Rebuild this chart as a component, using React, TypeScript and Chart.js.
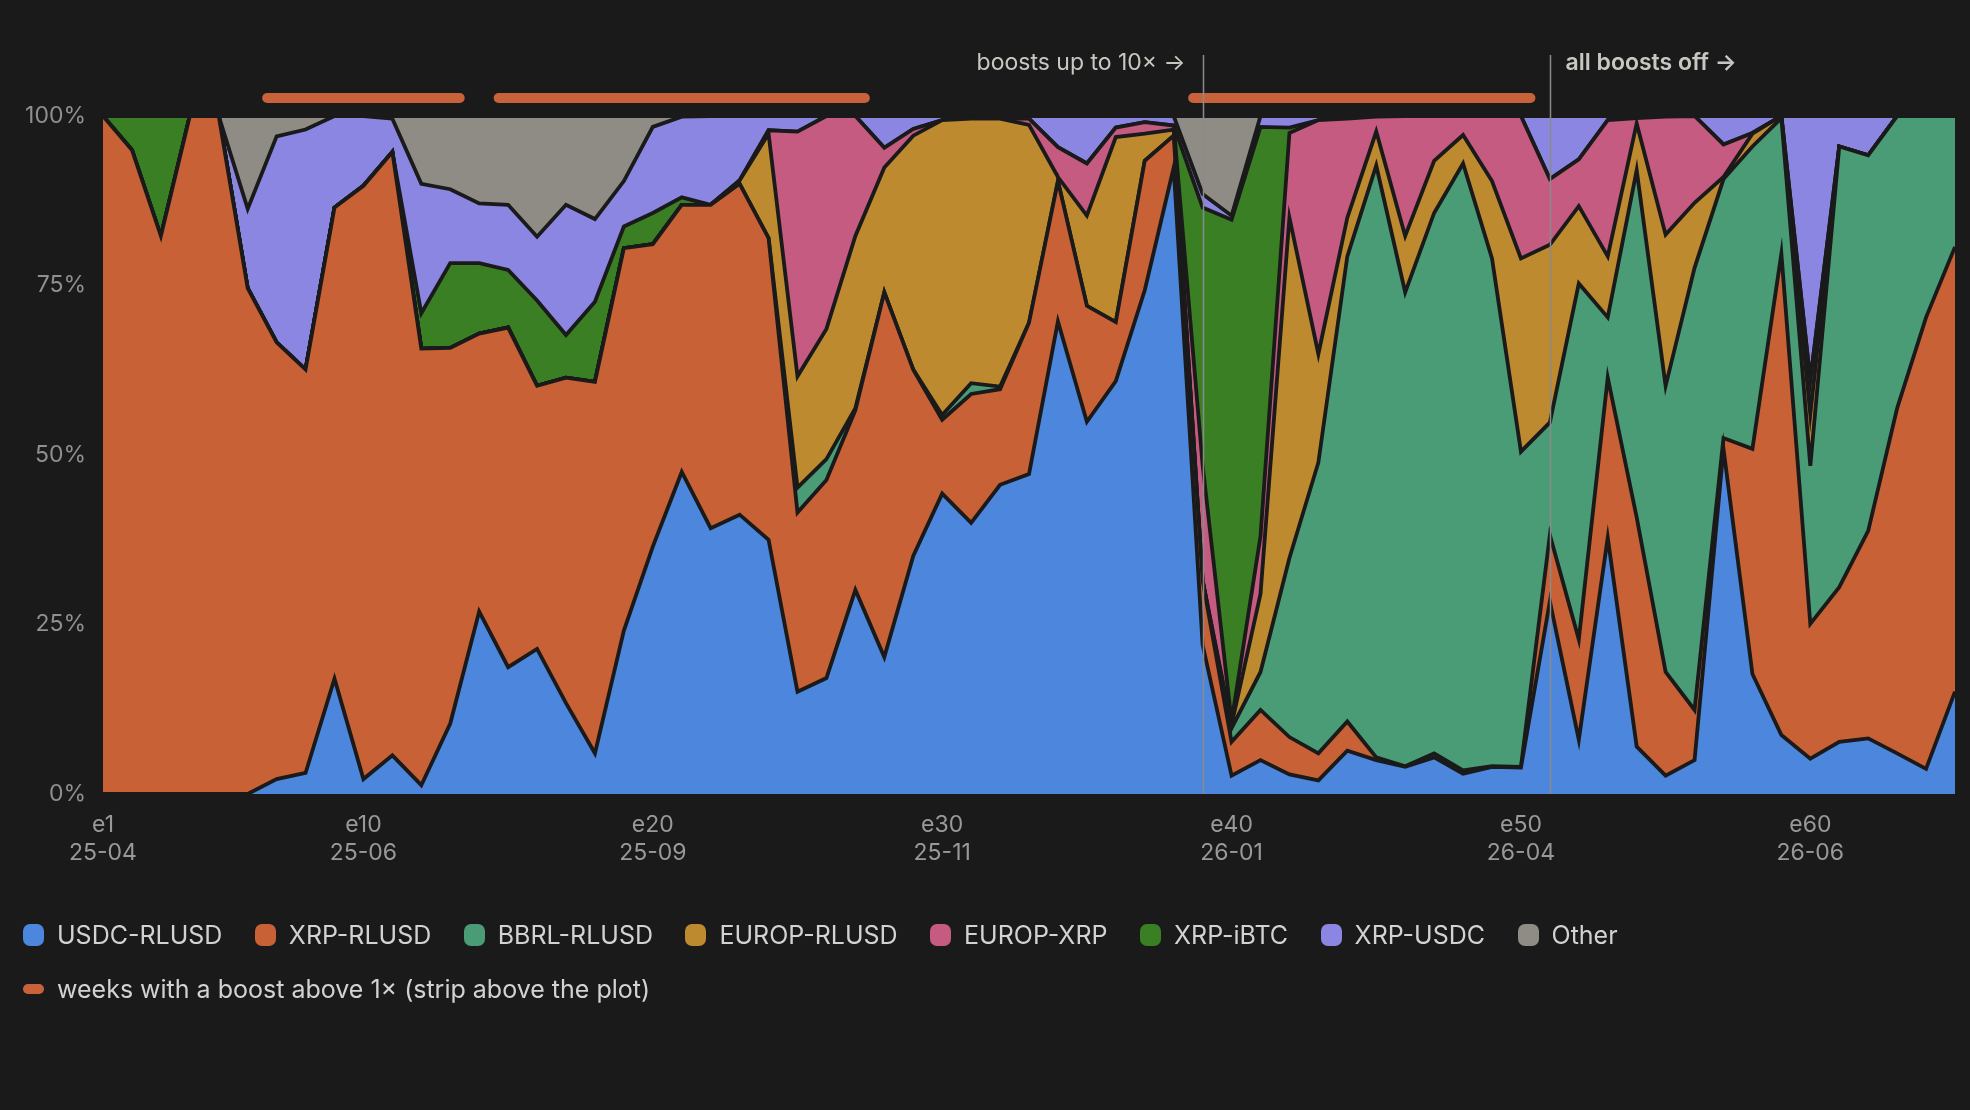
import React, { useEffect, useRef } from 'react';
import { Chart, registerables } from 'chart.js';
Chart.register(...registerables);

// weekly share of volume per pool, e1 .. e65
const weeks = Array.from({ length: 65 }, (_, i) => `e${i + 1}`);
const tickWeeks = ['e1', 'e10', 'e20', 'e30', 'e40', 'e50', 'e60'];
const tickMonths = ['25-04', '25-06', '25-09', '25-11', '26-01', '26-04', '26-06'];

const usdcRlusd = [
  0, 0, 0, 0, 0, 0, 2.2, 3.1, 17, 2.2, 5.7, 1.3, 10.4, 26.9, 18.7, 21.4, 13.4, 6, 24.1, 36.5,
  47.5, 39.2, 41.2, 37.5, 15.1, 17.1, 30.1, 20.2, 35.1, 44.3, 40, 45.6, 47.2, 69.7, 54.9, 60.9, 74.3, 92.4, 22, 2.7,
  5, 2.9, 2, 6.4, 5, 4, 5.4, 3, 4, 3.9, 28.4, 8, 37.8, 7, 2.7, 5, 50.9, 17.7, 8.7, 5.2,
  7.7, 8.2, 6, 3.7, 15.1,
];
const xrpRlusd = [
  100, 95, 82.3, 100, 100, 74.6, 64.4, 59.5, 69.5, 87.5, 89, 64.4, 55.4, 41, 50.1, 38.8, 48, 54.8, 56.4, 44.6,
  39.4, 47.7, 48.8, 44.5, 26.4, 29.2, 26.5, 53.8, 27.5, 10.9, 19, 14.1, 22.3, 20.7, 17.1, 8.7, 19.1, 4.7, 9.5, 5,
  7.4, 5.5, 4, 4.3, 0.4, 0.1, 0.6, 0.5, 0.1, 0.1, 9.8, 14.8, 23.6, 33.8, 15.3, 7.4, 1.6, 33.2, 71, 19.9,
  22.8, 30.6, 50.9, 66.6, 65.6,
];
const bbrlRlusd = [
  0, 0, 0, 0, 0, 0, 0, 0, 0, 0, 0, 0, 0, 0, 0, 0, 0, 0, 0, 0,
  0, 0, 0, 0, 3.7, 3.1, 0.3, 0, 0, 0.7, 1.6, 0.4, 0, 0, 0, 0, 0, 0, 0, 2,
  5.6, 26.4, 42.9, 68.6, 87.3, 69.9, 79.7, 89.5, 74.9, 46.5, 16.6, 52.5, 8.9, 51.2, 42.2, 65.2, 38.2, 44.6, 20, 23.3,
  65, 55.4, 43.1, 29.7, 19.3,
];
const europRlusd = [
  0, 0, 0, 0, 0, 0, 0, 0, 0, 0, 0, 0, 0, 0, 0, 0, 0, 0, 0, 0,
  0, 0, 0.5, 15.4, 16.4, 19.2, 25.4, 18.4, 34.5, 43.5, 39, 39.5, 29.2, 0.6, 13.3, 27.3, 4, 0.9, 0, 0.5,
  11.5, 50.2, 16, 5.7, 5, 8.3, 7.7, 4.2, 11.4, 28.5, 26.2, 11.4, 9, 6.9, 22.3, 9.6, 0.3, 1.9, 0.3, 7.6,
  0, 0, 0, 0, 0,
];
const europXrp = [
  0, 0, 0, 0, 0, 0, 0, 0, 0, 0, 0, 0, 0, 0, 0, 0, 0, 0, 0, 0,
  0, 0, 0, 0.5, 36.1, 31.4, 17.7, 2.9, 1, 0, 0, 0, 0.9, 4.4, 7.7, 1.4, 1.7, 0.6, 17, 0.5,
  8.5, 12.5, 34.5, 14.6, 2.2, 17.7, 6.6, 2.8, 9.6, 21, 9.7, 6.9, 20.1, 0.8, 17.4, 12.8, 4.8, 0.1, 0, 5,
  0, 0, 0, 0, 0,
];
const xrpIbtc = [
  0, 5, 17.7, 0, 0, 0, 0, 0, 0, 0, 0, 5.2, 12.5, 10.4, 8.5, 12.6, 6.3, 11.8, 3.2, 4.6,
  1.1, 0, 0, 0, 0, 0, 0, 0, 0, 0, 0, 0, 0, 0, 0, 0, 0, 0, 38, 74,
  60.4, 0.8, 0, 0, 0, 0, 0, 0, 0, 0, 0, 0, 0, 0, 0, 0, 0, 0, 0, 0,
  0, 0, 0, 0, 0,
];
const xrpUsdc = [
  0, 0, 0, 0, 0, 11.7, 30.4, 35.4, 13.5, 10.3, 4.9, 19.1, 10.9, 8.8, 9.6, 9.4, 19.2, 12.2, 6.7, 12.7,
  11.9, 13.1, 9.5, 2.1, 2.3, 0, 0, 4.7, 1.9, 0.6, 0.4, 0.4, 0.4, 4.6, 7, 1.7, 0.9, 1.4, 2, 0.6,
  1.6, 1.7, 0.6, 0.4, 0.1, 0, 0, 0, 0, 0, 9.3, 6.4, 0.6, 0.3, 0.1, 0, 4.2, 2.5, 0, 39,
  4.5, 5.8, 0, 0, 0,
];
const other = [
  0, 0, 0, 0, 0, 13.7, 3, 2, 0, 0, 0.4, 10, 10.8, 12.9, 13.1, 17.8, 13.1, 15.2, 9.6, 1.6,
  0.1, 0, 0, 0, 0, 0, 0, 0, 0, 0, 0, 0, 0, 0, 0, 0, 0, 0, 11.5, 14.7,
  0, 0, 0, 0, 0, 0, 0, 0, 0, 0, 0, 0, 0, 0, 0, 0, 0, 0, 0, 0,
  0, 0, 0, 0, 0,
];

const seriesNames = ['USDC-RLUSD', 'XRP-RLUSD', 'BBRL-RLUSD', 'EUROP-RLUSD', 'EUROP-XRP', 'XRP-iBTC', 'XRP-USDC', 'Other'];
const seriesValues = [usdcRlusd, xrpRlusd, bbrlRlusd, europRlusd, europXrp, xrpIbtc, xrpUsdc, other];
const seriesColors = ['#4d86dd', '#c96136', '#4a9c76', '#be8a2f', '#c55b80', '#3a7f24', '#8b86e2', '#8e8c85'];

// weeks (inclusive) where a boost above 1x was active
const boostRanges = [[7, 13], [15, 27], [39, 50]];
const boostColor = '#c8623a';
const markers = [
  { week: 39, label: 'boosts up to 10× →', side: 'left', bold: false },
  { week: 51, label: 'all boosts off →', side: 'right', bold: true },
];

const BG = '#1a1a1a';
const FONT = 'Inter, "Noto Sans", sans-serif';

const overlayPlugin = {
  id: 'boostOverlay',
  afterDatasetsDraw(chart: any) {
    const { ctx, chartArea } = chart;
    const x = chart.scales.x;
    const step = x.getPixelForValue(1) - x.getPixelForValue(0);
    ctx.save();
    ctx.fillStyle = boostColor;
    boostRanges.forEach(([a, b]) => {
      const x0 = x.getPixelForValue(a - 1) - step / 2;
      const x1 = x.getPixelForValue(b - 1) + step / 2;
      ctx.beginPath();
      ctx.roundRect(x0, chartArea.top - 23, x1 - x0, 10, 5);
      ctx.fill();
    });
    markers.forEach((m) => {
      const px = Math.round(x.getPixelForValue(m.week - 1)) + 0.5;
      ctx.strokeStyle = '#8a8a8a';
      ctx.lineWidth = 1.5;
      ctx.beginPath();
      ctx.moveTo(px, chartArea.top - 61);
      ctx.lineTo(px, chartArea.bottom);
      ctx.stroke();
      ctx.fillStyle = '#c9c7c1';
      ctx.textBaseline = 'middle';
      ctx.font = `${m.bold ? 600 : 400} 23px ${FONT}`;
      if (m.side === 'left') {
        ctx.textAlign = 'right';
        ctx.fillText(m.label, px - 18, chartArea.top - 53);
      } else {
        ctx.textAlign = 'left';
        ctx.fillText(m.label, px + 15, chartArea.top - 53);
      }
    });
    ctx.restore();
  },
};

export default function App(): React.ReactElement {
  const canvasRef = useRef<HTMLCanvasElement | null>(null);
  const chartRef = useRef<Chart | null>(null);

  useEffect(() => {
    document.body.style.margin = '0';
    document.body.style.background = BG;
    if (!canvasRef.current) return;
    const ctx = canvasRef.current.getContext('2d');
    if (!ctx) return;
    if (chartRef.current) chartRef.current.destroy();

    const totals = weeks.map((_, i) => seriesValues.reduce((s, arr) => s + arr[i], 0));

    chartRef.current = new Chart(ctx, {
      type: 'line',
      data: {
        labels: weeks,
        datasets: seriesNames.map((name, k) => ({
          label: name,
          data: seriesValues[k].map((v, i) => (v / totals[i]) * 100),
          backgroundColor: seriesColors[k],
          borderColor: BG,
          borderWidth: 3.8,
          fill: k === 0 ? 'origin' : '-1',
          pointRadius: 0,
          tension: 0,
        })),
      },
      options: {
        responsive: false,
        animation: false,
        layout: { padding: { left: 0, top: 116, right: 15, bottom: 236 } },
        plugins: {
          legend: { display: false },
          tooltip: { enabled: false },
        },
        scales: {
          x: {
            grid: { display: false },
            border: { display: false },
            afterFit: (scale: any) => {
              scale.height = 80;
            },
            ticks: {
              autoSkip: false,
              maxRotation: 0,
              padding: 9,
              color: '#999999',
              font: { family: FONT, size: 23, lineHeight: 1.22 },
              callback: (_v: any, idx: number) => {
                const k = tickWeeks.indexOf(weeks[idx]);
                return k >= 0 ? [tickWeeks[k], tickMonths[k]] : '';
              },
            },
          },
          y: {
            stacked: true,
            min: 0,
            max: 100,
            grid: { display: false, drawTicks: false },
            border: { display: false },
            afterFit: (scale: any) => {
              scale.width = 103;
            },
            ticks: {
              stepSize: 25,
              padding: 17,
              color: '#8f8f8f',
              font: { family: FONT, size: 23 },
              callback: (v: any) => `${v}%`,
            },
          },
        },
      },
      plugins: [overlayPlugin],
    });

    return () => {
      if (chartRef.current) {
        chartRef.current.destroy();
        chartRef.current = null;
      }
    };
  }, []);

  const textStyle: React.CSSProperties = { fontFamily: FONT, fontSize: 25, color: '#d2d2d2', lineHeight: '26px' };

  return (
    <div style={{ position: 'relative', width: 1970, height: 1110, background: BG, overflow: 'hidden' }}>
      <canvas ref={canvasRef} width={1970} height={1110} style={{ position: 'absolute', left: 0, top: 0, width: 1970, height: 1110 }} />
      <div style={{ position: 'absolute', left: 23, top: 922, display: 'flex', alignItems: 'center', gap: 32.5 }}>
        {seriesNames.map((name, k) => (
          <div key={name} style={{ display: 'flex', alignItems: 'center', gap: 13 }}>
            <span style={{ width: 21, height: 22, borderRadius: 7, background: seriesColors[k], display: 'inline-block' }} />
            <span style={textStyle}>{name}</span>
          </div>
        ))}
      </div>
      <div style={{ position: 'absolute', left: 23, top: 976, display: 'flex', alignItems: 'center', gap: 13 }}>
        <span style={{ width: 21, height: 10, borderRadius: 5, background: boostColor, display: 'inline-block' }} />
        <span style={textStyle}>weeks with a boost above 1× (strip above the plot)</span>
      </div>
    </div>
  );
}
